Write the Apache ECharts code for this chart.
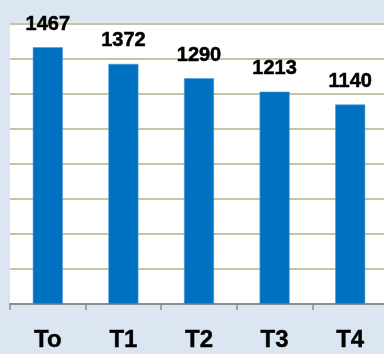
<!DOCTYPE html>
<html>
<head>
<meta charset="utf-8">
<style>
  html, body { margin: 0; padding: 0; background: #dce6f2; overflow: hidden; }
  #chart { width: 384px; height: 354px; }
</style>
<script src="https://cdn.jsdelivr.net/npm/echarts@6/dist/echarts.min.js"></script>
</head>
<body>
<div id="chart"></div>
<script>
// Treatment groups and their measured values
const categories = ['To', 'T1', 'T2', 'T3', 'T4'];
const values = [1467, 1372, 1290, 1213, 1140];
const yMin = 0;
const yMax = 1600;
const yStep = 200;

const chart = echarts.init(document.getElementById('chart'), null, { renderer: 'canvas' });

chart.setOption({
  backgroundColor: '#dce6f2',
  animation: false,
  grid: {
    left: 10,
    top: 24,
    width: 378,
    height: 280,
    outerBoundsMode: 'none',
    containLabel: false,
    show: true,
    backgroundColor: '#ffffff',
    borderWidth: 0
  },
  xAxis: {
    type: 'category',
    data: categories,
    boundaryGap: true,
    axisLine: { show: true, lineStyle: { color: '#8c8c8c', width: 2 } },
    axisTick: { show: true, alignWithLabel: false, length: 6, lineStyle: { color: '#8c8c8c', width: 1.5 } },
    axisLabel: {
      margin: 24,
      color: '#000000',
      fontFamily: 'Arial',
      fontWeight: 700,
      fontSize: 24,
      textBorderColor: '#000000',
      textBorderWidth: 0.4
    }
  },
  yAxis: {
    type: 'value',
    min: yMin,
    max: yMax,
    interval: yStep,
    axisLine: { show: false },
    axisTick: { show: false },
    axisLabel: { show: false },
    splitLine: { show: true, lineStyle: { color: '#cbc3a0', width: 2 } }
  },
  series: [{
    type: 'bar',
    data: values,
    barWidth: 30,
    itemStyle: { color: '#0070c0', borderColor: '#4a9ad6', borderWidth: 0.6 },
    label: {
      show: true,
      position: 'top',
      distance: 13,
      color: '#000000',
      fontFamily: 'Arial',
      fontWeight: 700,
      fontSize: 20,
      textBorderColor: '#000000',
      textBorderWidth: 0.5
    }
  }]
});
</script>
</body>
</html>
